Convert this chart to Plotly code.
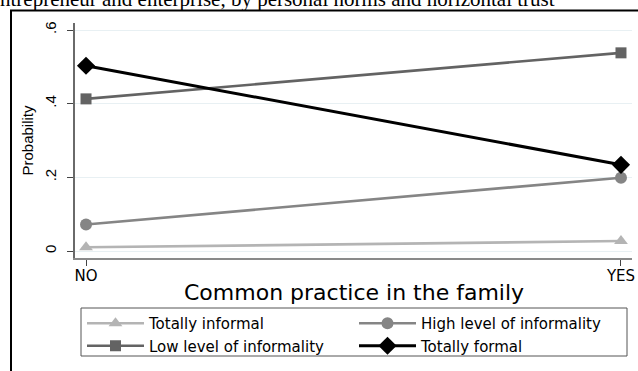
import plotly.graph_objects as go

categories = ["NO", "YES"]
totally_informal = [0.010, 0.027]
high_informality = [0.072, 0.199]
low_informality = [0.413, 0.538]
totally_formal = [0.503, 0.234]
y_tickvals = [0, 0.2, 0.4, 0.6]
y_ticktext = ["0", ".2", ".4", ".6"]
x_title = "Common practice in the family"
y_title = "Probability"
caption = "ntrepreneur and enterprise, by personal norms and horizontal trust"

series = [
    ("Totally informal", totally_informal, "#b4b4b4", "triangle-up", 12),
    ("High level of informality", high_informality, "#858585", "circle", 12),
    ("Low level of informality", low_informality, "#636363", "square", 11),
    ("Totally formal", totally_formal, "#000000", "diamond", 14),
]

fig = go.Figure()
for name, vals, col, sym, sz in series:
    fig.add_trace(go.Scatter(
        x=categories, y=vals, name=name, mode="lines+markers",
        line=dict(color=col, width=3 if col == "#000000" else 2.6),
        marker=dict(symbol=sym, size=sz, color=col),
    ))

W, H = 638, 371
L, R, T, B = 75, 6, 23, 113
pw, ph = W - L - R, H - T - B

def px_x(p):
    return (p - L) / pw

def px_y(p):
    return (H - B - p) / ph

fig.update_layout(
    width=W, height=H,
    margin=dict(l=L, r=R, t=T, b=B, pad=0, autoexpand=False),
    paper_bgcolor="white", plot_bgcolor="white",
    font=dict(family="DejaVu Sans", color="black"),
    xaxis=dict(
        type="category", range=[-0.0206, 1.0206],
        showline=True, linecolor="#8a8a8a", linewidth=1.5,
        ticks="outside", ticklen=6, tickcolor="#444", tickwidth=1,
        ticklabelstandoff=-3,
        showgrid=False, zeroline=False,
        tickfont=dict(family="DejaVu Sans", size=15),
    ),
    yaxis=dict(
        range=[-0.019, 0.619],
        tickvals=y_tickvals, ticktext=y_ticktext, tickangle=-90,
        showline=True, linecolor="#6a6a6a", linewidth=1.5,
        ticks="outside", ticklen=6, tickcolor="#444", tickwidth=1,
        ticklabelstandoff=5,
        showgrid=True, gridcolor="#e8f0f3", gridwidth=1, zeroline=False,
        tickfont=dict(family="Liberation Sans", size=15),
        title=dict(text=y_title,
                   font=dict(family="Liberation Sans", size=15), standoff=5),
    ),
    legend=dict(
        orientation="h", x=px_x(82), y=px_y(307), xanchor="left", yanchor="top",
        entrywidth=200, entrywidthmode="pixels", itemwidth=57,
        font=dict(family="DejaVu Sans", size=15),
        bgcolor="rgba(0,0,0,0)", borderwidth=0, tracegroupgap=0,
    ),
    showlegend=True,
    shapes=[
        dict(type="rect", xref="paper", yref="paper",
             x0=px_x(81), x1=px_x(627), y0=px_y(356), y1=px_y(308),
             line=dict(color="#555555", width=1), fillcolor="rgba(0,0,0,0)"),
        dict(type="rect", xref="paper", yref="paper",
             x0=px_x(11), x1=px_x(660), y0=px_y(400), y1=px_y(10.5),
             line=dict(color="black", width=2), fillcolor="rgba(0,0,0,0)"),
    ],
    annotations=[
        dict(text=caption,
             xref="paper", yref="paper", x=px_x(-2), y=px_y(13.5),
             xanchor="left", yanchor="bottom", showarrow=False,
             font=dict(family="Liberation Serif", size=21, color="black")),
        dict(text=x_title,
             xref="paper", yref="paper", x=0.5, y=px_y(292),
             xanchor="center", yanchor="middle", showarrow=False,
             font=dict(family="DejaVu Sans", size=22, color="black")),
    ],
)

fig.write_html("out.html")
